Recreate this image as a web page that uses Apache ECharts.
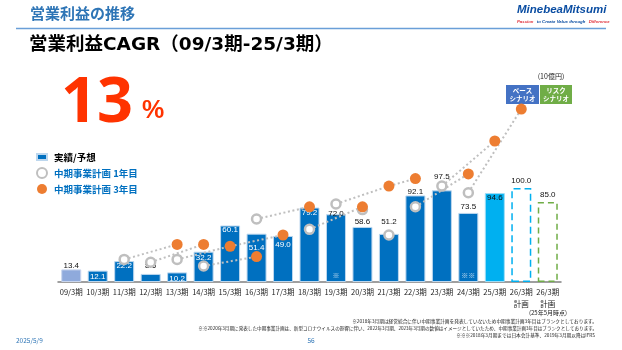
<!DOCTYPE html>
<html>
<head>
<meta charset="utf-8">
<script src="https://cdn.jsdelivr.net/npm/echarts@6/dist/echarts.min.js"></script>
<style>
  html, body { margin: 0; padding: 0; background: #fff; }
  #main { width: 622px; height: 350px; }
</style>
</head>
<body>
<div id="main"></div>
<script>
// ==================================================
// データ (10億円)
var periods = ['09/3期', '10/3期', '11/3期', '12/3期', '13/3期', '14/3期', '15/3期', '16/3期', '17/3期', '18/3期',
  '19/3期', '20/3期', '21/3期', '22/3期', '23/3期', '24/3期', '25/3期', '26/3期\n計画', '26/3期\n計画'];

// 実績/予想
var actual = [13.4, 12.1, 22.2, 8.6, 10.2, 32.2, 60.1, 51.4, 49.0, 79.2, 72.0, 58.6, 51.2, 92.1, 97.5, 73.5, 94.6, 100.0, 85.0];

// 中期事業計画 1年目
var plan1 = [null, null, 24, 21, 24, 17, null, 67, null, 56, 83, 77, 50, 80, 102, 95, null, null, null];

// 中期事業計画 3年目
var plan3 = [null, null, null, null, 40, 40, 38, 27, 50, 80, null, 80, 102, 110, null, 115, 150, 184, null];

// ※ 注記
var notes = ['', '', '', '', '', '', '', '', '', '', '※', '', '', '', '', '※※', '', '', ''];

// 計画の結び線 [始点, 始点の系列, 終点, 終点の系列]
var links = [
  [2, 1, 4, 3], [3, 1, 5, 3], [4, 1, 6, 3], [6, 3, 8, 3], [5, 1, 7, 3], [7, 1, 9, 3],
  [9, 1, 11, 3], [10, 1, 12, 3], [12, 3, 13, 3], [13, 1, 15, 3], [14, 1, 16, 3], [15, 1, 17, 3]
];

// ==================================================
var JP = '"Noto Sans CJK JP", "Noto Sans", sans-serif';
var BLUE = '#0070C0';

// ラベル位置 (棒ごと)
var barLabelPos = {
  0: ['top', 0, '#111'], 1: ['insideTop', 2, '#fff'], 2: ['insideTop', 1, '#fff'], 3: ['top', 4, '#111'],
  4: ['insideTop', 2, '#fff'], 5: ['insideTop', 2, '#fff'], 6: ['insideTop', 0, '#fff'], 7: ['insideTop', 10, '#fff'],
  8: ['insideTop', 5, '#fff'], 9: ['insideTop', 1, '#fff'], 10: ['top', -3, '#111'], 11: ['top', 1, '#111'],
  12: ['top', 8, '#111'], 13: ['top', 0, '#111'], 14: ['top', 10, '#111'], 15: ['top', 2, '#111'],
  16: ['insideTop', 1, '#111'], 17: ['top', 3, '#111'], 18: ['top', 3, '#111']
};

function barStyle(i) {
  if (i === 0) return { color: '#8FAADC', borderColor: '#C9D6EE', borderWidth: 1 };
  if (i === 16) return { color: '#00B0F0', borderColor: '#9FDDF6', borderWidth: 1 };
  if (i === 17) return { color: 'rgba(0,0,0,0)', borderColor: '#00B0F0', borderWidth: 1.5, borderType: [7, 4] };
  if (i === 18) return { color: 'rgba(0,0,0,0)', borderColor: '#70AD47', borderWidth: 1.5, borderType: [6, 4] };
  return { color: BLUE, borderColor: '#BDD7EE', borderWidth: 1 };
}

var barData = actual.map(function (v, i) {
  var p = barLabelPos[i];
  return {
    value: v,
    itemStyle: barStyle(i),
    label: {
      show: true, position: p[0], distance: p[1], color: p[2],
      formatter: v.toFixed(1), fontSize: 8, fontFamily: '"Liberation Sans", sans-serif'
    }
  };
});

var linkSeries = links.map(function (l) {
  var d = periods.map(function () { return null; });
  d[l[0]] = (l[1] === 1 ? plan1 : plan3)[l[0]];
  d[l[2]] = (l[3] === 1 ? plan1 : plan3)[l[2]];
  return {
    type: 'line', name: 'link', data: d, connectNulls: true, symbol: 'none', silent: true, z: 3,
    lineStyle: { color: '#BFBFBF', width: 2, type: [2, 2.6] }
  };
});

var noteData = notes.map(function (n) { return n ? 7 : null; });

var chart = echarts.init(document.getElementById('main'));

chart.setOption({
  animation: false,
  backgroundColor: '#fff',
  grid: { left: 58, right: 61, top: 94, bottom: 68 },
  xAxis: {
    type: 'category',
    data: periods,
    axisLine: { lineStyle: { color: '#808080', width: 1.5 } },
    axisTick: { show: false },
    axisLabel: { interval: 0, fontSize: 7.5, color: '#222', margin: 4, lineHeight: 12, fontFamily: JP }
  },
  yAxis: { type: 'value', min: 0, max: 200, show: false, splitLine: { show: false } },
  legend: {
    orient: 'vertical', left: 31, top: 147, itemWidth: 10, itemHeight: 10, itemGap: 5,
    selectedMode: false,
    textStyle: { fontSize: 9.5, fontWeight: 'bold', fontFamily: JP, lineHeight: 10, padding: [0, 0, 0, 2] },
    data: [
      { name: '実績/予想', icon: 'path://M0,0h10v6h-10z', textStyle: { color: '#000' } },
      { name: '中期事業計画 1年目', icon: 'circle', textStyle: { color: BLUE } },
      { name: '中期事業計画 3年目', icon: 'circle', textStyle: { color: BLUE } }
    ]
  },
  series: [
    {
      type: 'bar', name: '実績/予想', barWidth: 20, data: barData, z: 2,
      itemStyle: { color: BLUE, borderColor: '#BDD7EE', borderWidth: 1 }
    }
  ].concat(linkSeries).concat([
    {
      type: 'scatter', name: '中期事業計画 1年目', data: plan1, symbolSize: 9, z: 4,
      itemStyle: { color: '#fff', borderColor: '#BFBFBF', borderWidth: 2.5, opacity: 1 }
    },
    {
      type: 'scatter', name: '中期事業計画 3年目', data: plan3, symbolSize: 11, z: 5,
      itemStyle: { color: '#ED7D31', opacity: 1 }
    },
    {
      type: 'scatter', name: 'note', data: noteData, symbolSize: 0, z: 6, silent: true,
      label: {
        show: true, position: 'inside', color: '#fff', fontSize: 7, fontFamily: JP,
        formatter: function (p) { return notes[p.dataIndex]; }
      }
    }
  ]),
  graphic: [
    { type: 'text', left: 30, top: 6, style: { text: '営業利益の推移', font: 'bold 15px ' + JP, fill: '#2E75B6' } },
    { type: 'line', shape: { x1: 16, y1: 28.5, x2: 606, y2: 28.5 }, style: { stroke: '#6A9FD8', lineWidth: 1.5 } },
    { type: 'text', left: 517, top: 4, style: { text: 'MinebeaMitsumi', font: 'italic bold 11.5px "Liberation Sans", sans-serif', fill: '#0A4DA2' } },
    {
      type: 'text', left: 517, top: 16,
      style: {
        text: '{r|Passion} {b|to Create Value through} {r|Difference}',
        rich: {
          r: { fill: '#E0303A', font: 'italic bold 4.3px "Liberation Sans", sans-serif' },
          b: { fill: '#0A4DA2', font: 'italic bold 4.3px "Liberation Sans", sans-serif' }
        }
      }
    },
    { type: 'text', left: 29, top: 36, style: { text: '営業利益CAGR（09/3期-25/3期）', font: 'bold 18.5px "DejaVu Sans", "Noto Sans CJK JP", sans-serif', fill: '#000' } },
    { type: 'text', left: 61, top: 73, style: { text: '13', font: 'bold 63px "Noto Sans", sans-serif', fill: '#FF3300' } },
    { type: 'text', left: 142, top: 99, style: { text: '%', font: 'bold 25px "Liberation Sans", sans-serif', fill: '#FF3300' } },
    { type: 'text', x: 551, y: 76, style: { text: '(10億円)', font: '7px ' + JP, fill: '#222', align: 'center', verticalAlign: 'middle' } },
    { type: 'rect', shape: { x: 506, y: 85, width: 33, height: 19 }, style: { fill: '#4472C4' } },
    { type: 'text', x: 522.5, y: 94.5, style: { text: 'ベース\nシナリオ', font: 'bold 6.5px ' + JP, fill: '#fff', align: 'center', verticalAlign: 'middle', lineHeight: 8 } },
    { type: 'rect', shape: { x: 540, y: 85, width: 32, height: 19 }, style: { fill: '#70AD47' } },
    { type: 'text', x: 556, y: 94.5, style: { text: 'リスク\nシナリオ', font: 'bold 6.5px ' + JP, fill: '#fff', align: 'center', verticalAlign: 'middle', lineHeight: 8 } },
    { type: 'text', x: 567, y: 313, style: { text: '(25年5月時点)', font: '6px ' + JP, fill: '#222', align: 'right', verticalAlign: 'middle' } },
    { type: 'text', x: 597, y: 321, style: { text: '※2018年3月期は経営統合に伴い中期事業計画を発表していないため中期事業計画3年目はブランクとしております。', font: '4.7px ' + JP, fill: '#222', align: 'right', verticalAlign: 'middle' } },
    { type: 'text', x: 597, y: 328, style: { text: '※※2020年3月期に発表した中期事業計画は、新型コロナウイルスの影響に伴い、2022年3月期、2023年3月期の数値はイメージとしていたため、中期事業計画3年目はブランクとしております。', font: '4.6px ' + JP, fill: '#222', align: 'right', verticalAlign: 'middle' } },
    { type: 'text', x: 595, y: 335, style: { text: '※※※2018年3月期までは日本会計基準、2019年3月期以降はIFRS', font: '4.7px ' + JP, fill: '#222', align: 'right', verticalAlign: 'middle' } },
    { type: 'text', x: 16, y: 341, style: { text: '2025/5/9', font: '6.5px ' + JP, fill: '#2E75B6', verticalAlign: 'middle' } },
    { type: 'text', x: 311, y: 341, style: { text: '56', font: '6.5px ' + JP, fill: '#2E75B6', align: 'center', verticalAlign: 'middle' } }
  ]
});
</script>
</body>
</html>
